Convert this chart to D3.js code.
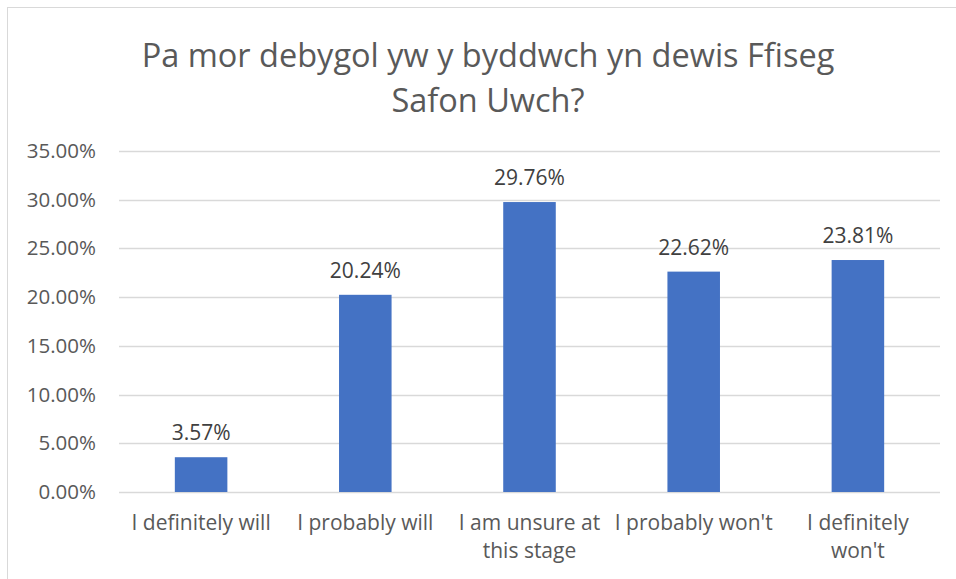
<!DOCTYPE html>
<html>
<head>
<meta charset="utf-8">
<script src="https://cdn.jsdelivr.net/npm/d3@7"></script>
<style>
  body { margin: 0; background: #fff; }
  svg { display: block; font-family: "Open Sans", "Noto Sans", sans-serif; }
</style>
</head>
<body>
<div id="chart"></div>
<script>
// chart data
const titleLines = ["Pa mor debygol yw y byddwch yn dewis Ffiseg", "Safon Uwch?"];
const categories = ["I definitely will", "I probably will", "I am unsure at\nthis stage", "I probably won't", "I definitely\nwon't"];
const values = [0.0357, 0.2024, 0.2976, 0.2262, 0.2381];
const yTicks = [0, 0.05, 0.10, 0.15, 0.20, 0.25, 0.30, 0.35];

const W = 956, H = 579;
const plot = { left: 119, right: 940, top: 151, bottom: 492 };

const svg = d3.select("#chart").append("svg")
    .attr("width", W)
    .attr("height", H);

// outer chart border (only top/left visible in the crop)
svg.append("rect")
    .attr("x", 7.5).attr("y", 7.5)
    .attr("width", W + 20).attr("height", H + 20)
    .attr("fill", "#fff")
    .attr("stroke", "#d9d9d9");

// title
svg.append("text")
    .attr("x", 488)
    .attr("y", 67)
    .attr("text-anchor", "middle")
    .attr("fill", "#595959")
    .style("font-size", "32.5px")
    .selectAll("tspan")
    .data(titleLines)
    .enter()
    .append("tspan")
    .attr("x", 488)
    .attr("dy", (d, i) => i === 0 ? 0 : 45)
    .text(d => d);

const x = d3.scaleBand()
    .domain(categories)
    .range([plot.left, plot.right])
    .paddingInner(0.68)
    .paddingOuter(0.34);

const y = d3.scaleLinear()
    .domain([0, 0.35])
    .range([plot.bottom, plot.top]);

// gridlines
svg.append("g")
    .selectAll("line")
    .data(yTicks)
    .enter()
    .append("line")
    .attr("x1", plot.left)
    .attr("x2", plot.right)
    .attr("y1", d => Math.round(y(d)) + 0.5)
    .attr("y2", d => Math.round(y(d)) + 0.5)
    .attr("stroke", "#d9d9d9")
    .attr("stroke-width", 1.3);

// y axis labels
const yAxis = svg.append("g")
    .attr("transform", `translate(${plot.left}, 0)`)
    .call(d3.axisLeft(y).tickValues(yTicks).tickFormat(d3.format(".2%")).tickSize(0).tickPadding(23));
yAxis.select(".domain").remove();
yAxis.attr("font-size", null).attr("font-family", null);
yAxis.selectAll("text")
    .attr("fill", "#595959")
    .style("font-size", "20.5px");

// bars
svg.append("g")
    .selectAll("rect")
    .data(values)
    .enter()
    .append("rect")
    .attr("x", (d, i) => x(categories[i]))
    .attr("y", d => y(d))
    .attr("width", x.bandwidth())
    .attr("height", d => y(0) - y(d))
    .attr("fill", "#4472c4");

// data labels
svg.append("g")
    .selectAll("text")
    .data(values)
    .enter()
    .append("text")
    .attr("x", (d, i) => x(categories[i]) + x.bandwidth() / 2)
    .attr("y", d => y(d) - 17)
    .attr("text-anchor", "middle")
    .attr("fill", "#404040")
    .style("font-size", "21px")
    .text(d => d3.format(".2%")(d));

// x axis labels
const xAxis = svg.append("g")
    .attr("transform", `translate(0, ${plot.bottom})`)
    .call(d3.axisBottom(x).tickSize(0).tickFormat(""));
xAxis.select(".domain").remove();
xAxis.attr("font-size", null).attr("font-family", null);
xAxis.selectAll(".tick").each(function(d) {
    const t = d3.select(this).append("text")
        .attr("text-anchor", "middle")
        .attr("fill", "#595959")
        .style("font-size", "21px")
        .attr("y", 38);
    d.split("\n").forEach((line, i) => {
        t.append("tspan").attr("x", 0).attr("dy", i === 0 ? 0 : 28).text(line);
    });
});
</script>
</body>
</html>
